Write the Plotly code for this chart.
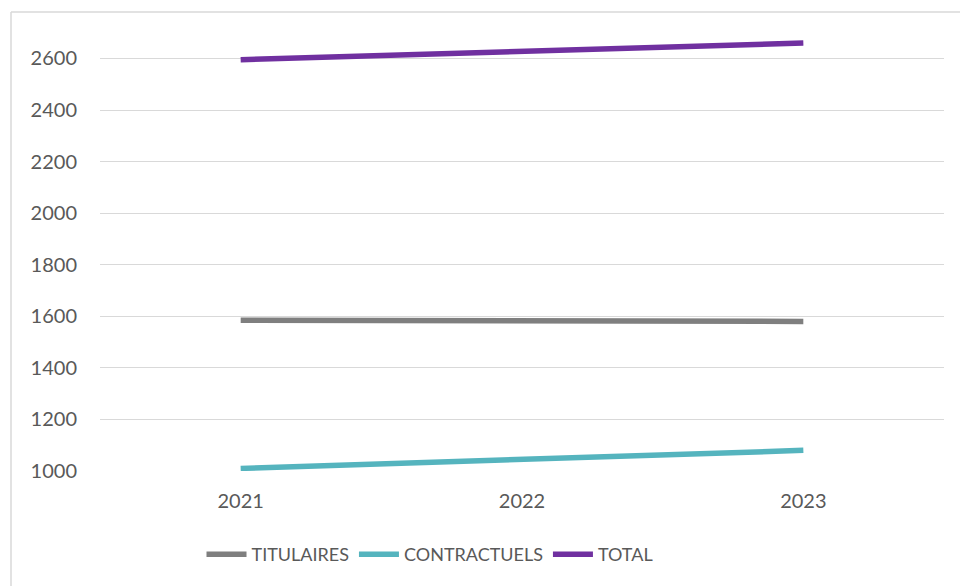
import plotly.graph_objects as go

years = ["2021", "2022", "2023"]
titulaires = [1585, 1580, 1580]
contractuels = [1010, 1045, 1080]
total = [2595, 2628, 2660]
y_ticks = [1000, 1200, 1400, 1600, 1800, 2000, 2200, 2400, 2600]

series = [
    ("TITULAIRES", titulaires, "#7f7f7f"),
    ("CONTRACTUELS", contractuels, "#55b4be"),
    ("TOTAL", total, "#7030a0"),
]

fig = go.Figure()
for name, vals, col in series:
    fig.add_trace(go.Scatter(x=years, y=vals, mode="lines", name=name,
                             line=dict(color=col, width=5.5)))

W, H = 960, 586
pl, pr, pt, pb = 100, 944, 14, 471.3
ph = pb - pt
pw = pr - pl

font_col = "#595959"
fig.update_layout(
    width=W, height=H,
    margin=dict(l=pl, r=W - pr, t=pt, b=H - pb, pad=0),
    paper_bgcolor="white", plot_bgcolor="white",
    font=dict(family="Lato, sans-serif", color=font_col, size=20),
    showlegend=True,
    legend=dict(orientation="h", x=(430 - pl) / pw, xanchor="center",
                y=(pb - 555) / ph, yanchor="middle",
                font=dict(size=18, color=font_col),
                itemwidth=40, tracegroupgap=0),
    xaxis=dict(type="category", range=[-0.5, 2.5], showgrid=False,
               showline=False, zeroline=False, ticks="",
               ticklabelstandoff=16, tickfont=dict(size=20)),
    yaxis=dict(range=[1000, 1000 + (pb - pt) / (51.6 / 200)],
               tickvals=y_ticks, ticktext=[str(v) for v in y_ticks],
               showgrid=True, gridcolor="#d9d9d9", gridwidth=1.3,
               zeroline=False, showline=False, ticks="",
               ticklabelstandoff=22, tickfont=dict(size=20)),
)

# chart area border (top and left)
bx = (11 - pl) / pw
by = (pb - 12) / ph
fig.add_shape(type="line", xref="paper", yref="paper", x0=bx, x1=(W - pl) / pw + 0.05,
              y0=by, y1=by, line=dict(color="#d9d9d9", width=1.5))
fig.add_shape(type="line", xref="paper", yref="paper", x0=bx, x1=bx,
              y0=by, y1=(pb - H) / ph - 0.05, line=dict(color="#d9d9d9", width=1.5))

fig.write_html("out.html", config={"displayModeBar": False},
               post_script="document.body.style.margin='0';document.body.style.overflow='hidden';")
